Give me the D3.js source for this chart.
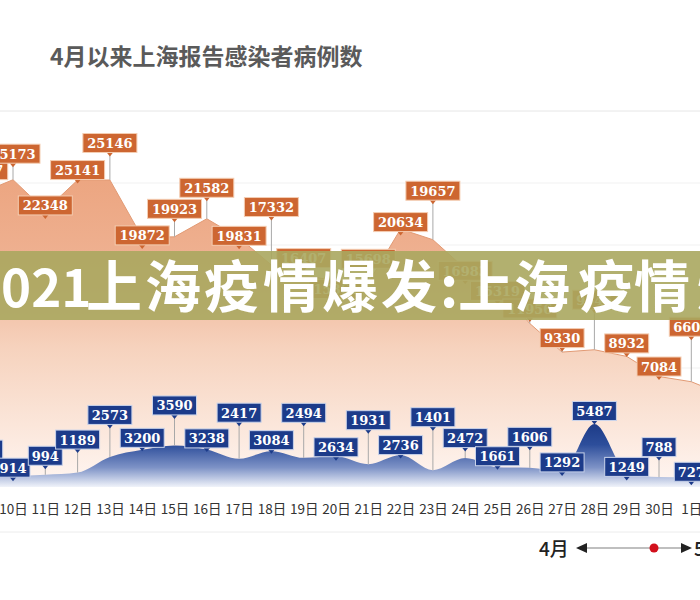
<!DOCTYPE html>
<html><head><meta charset="utf-8">
<script src="https://cdn.jsdelivr.net/npm/d3@7"></script>
<style>html,body{margin:0;padding:0;background:#fff;} svg{display:block}</style>
</head><body><svg id="c" width="700" height="600"></svg>
<script>
// ---- data ----
const title = "4月以来上海报告感染者病例数";
const days = ["9日","10日","11日","12日","13日","14日","15日","16日","17日","18日","19日","20日","21日","22日","23日","24日","25日","26日","27日","28日","29日","30日","1日","2日"];
const tickDays = ["10日","11日","12日","13日","14日","15日","16日","17日","18日","19日","20日","21日","22日","23日","24日","25日","26日","27日","28日","29日","30日","1日"];
const asymptomatic = [23937,25173,22348,25141,25146,19872,19923,21582,19831,17332,16407,15861,15698,20634,19657,16983,15319,11956,9330,9545,8932,7084,6606,5395];
const confirmed = [1006,914,994,1189,2573,3200,3590,3238,2417,3084,2494,2634,1931,2736,1401,2472,1661,1606,1292,5487,1249,788,727,274];
const bannerParts = ["2021", "上海疫情爆发", ":", "上海", "疫情", "爆"];
const legendFrom = "4月", legendTo = "5月";

// label lift above the point (annotation offsets)
const orangeLift = [23,26,5,10,37,2,28,31,2,58,17,-8,24,7,49,-2,-4,15,14,50,13,10,55,-15];
const blueLift   = [25,8,19,33,42,12,40,11,46,11,45,9,44,10,53,20,11,31,9,13,5,30,6,36];

const svg = d3.select("#c");
const W = 700, H = 600;

const x = d3.scalePoint().domain(days).range([-19.3, 723.6]);
const yO = d3.scaleLinear().domain([0, 25146]).range([453.6, 180]);
const yB = d3.scaleLinear().domain([0, 5487]).range([486, 424]);
const base = 487;

const defs = svg.append("defs");
const go = defs.append("linearGradient").attr("id","go").attr("gradientUnits","userSpaceOnUse")
  .attr("x1",0).attr("x2",0).attr("y1",175).attr("y2",base);
[[0,"#eca580"],[0.3,"#efb293"],[0.55,"#f6d2bd"],[0.8,"#fbe6da"],[1,"#fff6f2"]]
  .forEach(([o,c])=>go.append("stop").attr("offset",o).attr("stop-color",c));
const gb = defs.append("linearGradient").attr("id","gb").attr("gradientUnits","userSpaceOnUse")
  .attr("x1",0).attr("x2",0).attr("y1",422).attr("y2",base);
[[0,"#1b3985"],[0.35,"#2d4e9b"],[0.7,"#7d92c6"],[1,"#f0f3fa"]]
  .forEach(([o,c])=>gb.append("stop").attr("offset",o).attr("stop-color",c));

// title + separators
svg.append("text").attr("x",50).attr("y",65).text(title)
  .attr("font-family","'Noto Sans CJK SC'").attr("font-weight",700).attr("font-size",23)
  .attr("fill","#5a5a5a");
svg.append("line").attr("x1",0).attr("x2",W).attr("y1",111).attr("y2",111).attr("stroke","#e6e6e6");
[183,245,306,368,430].forEach(g=>svg.append("line").attr("x1",0).attr("x2",W).attr("y1",g).attr("y2",g).attr("stroke","#f1f1f1"));

// orange area
svg.append("path").datum(asymptomatic)
  .attr("d", d3.area().x((d,i)=>x(days[i])).y0(base).y1(d=>yO(d)))
  .attr("fill","url(#go)");
svg.append("path").datum(asymptomatic)
  .attr("d", d3.line().x((d,i)=>x(days[i])).y(d=>yO(d)))
  .attr("fill","none").attr("stroke","#e29a74").attr("stroke-width",1);

// blue area
svg.append("path").datum(confirmed)
  .attr("d", d3.area().curve(d3.curveMonotoneX).x((d,i)=>x(days[i])).y0(base).y1(d=>yB(d)))
  .attr("fill","url(#gb)");

function labels(values, lifts, yS, fill, edge) {
  const g = svg.append("g");
  values.forEach((v,i)=>{
    const cx = x(days[i]), py = yS(v), cy = py - lifts[i];
    const t = String(v), w = t.length*10 + 4, h = 19;
    if (py > cy + h/2 + 4) {
      g.append("line").attr("x1",cx).attr("x2",cx).attr("y1",cy+h/2).attr("y2",py)
        .attr("stroke","#a8a8a8").attr("stroke-width",1);
    }
    g.append("path").attr("d",`M${cx-4},${cy+h/2-1}L${cx+4},${cy+h/2-1}L${cx},${cy+h/2+4}Z`).attr("fill",fill);
    g.append("rect").attr("x",cx-w/2).attr("y",cy-h/2).attr("width",w).attr("height",h)
      .attr("fill",fill).attr("stroke",edge).attr("stroke-width",1);
    g.append("text").attr("x",cx).attr("y",cy+5).attr("text-anchor","middle")
      .attr("font-family","'DejaVu Serif'").attr("font-weight",700).attr("font-size",13)
      .attr("fill","#fff").text(t);
  });
}
labels(asymptomatic, orangeLift, yO, "#cd6631", "#f4cdb2");
labels(confirmed, blueLift, yB, "#1c3b8a", "#c9d3ea");

// banner overlay
svg.append("rect").attr("x",0).attr("y",251).attr("width",W).attr("height",69)
  .attr("fill","#aaa75f").attr("opacity",0.9);
const bt = svg.append("text").attr("y",307).attr("fill","#fff")
  .attr("font-family","'Noto Sans CJK SC'").attr("font-weight",700).attr("font-size",56);
const bx = [-29, 86, 440, 458, 578, 697];
bannerParts.forEach((p,i)=>{
  const ts = bt.append("tspan").attr("x",bx[i]).text(p);
  if (i===0) ts.attr("font-size",51);
  else if (i===1) ts.style("letter-spacing","3px");
});

// x axis
const ax = svg.append("g").attr("transform",`translate(0,502)`)
  .call(d3.axisBottom(x).tickValues(tickDays).tickSize(0).tickPadding(0));
ax.select(".domain").remove();
ax.selectAll("text").attr("dy","0.9em").attr("font-family","'Noto Sans CJK SC'")
  .attr("font-size",13.5).attr("fill","#333");
svg.append("line").attr("x1",0).attr("x2",W).attr("y1",532).attr("y2",532).attr("stroke","#ececec");

// legend
const lg = svg.append("g");
lg.append("text").attr("x",539).attr("y",556).text(legendFrom)
  .attr("font-family","'Noto Sans CJK SC'").attr("font-weight",500).attr("font-size",19).attr("fill","#222");
lg.append("line").attr("x1",580).attr("x2",688).attr("y1",548).attr("y2",548).attr("stroke","#aaa").attr("stroke-width",1.5);
lg.append("path").attr("d","M576,548L587,543L587,553Z").attr("fill","#222");
lg.append("path").attr("d","M692,548L681,543L681,553Z").attr("fill","#222");
lg.append("circle").attr("cx",654).attr("cy",548).attr("r",4.5).attr("fill","#d2101c");
lg.append("text").attr("x",694).attr("y",556).text(legendTo)
  .attr("font-family","'Noto Sans CJK SC'").attr("font-weight",500).attr("font-size",19).attr("fill","#222");
</script></body></html>
